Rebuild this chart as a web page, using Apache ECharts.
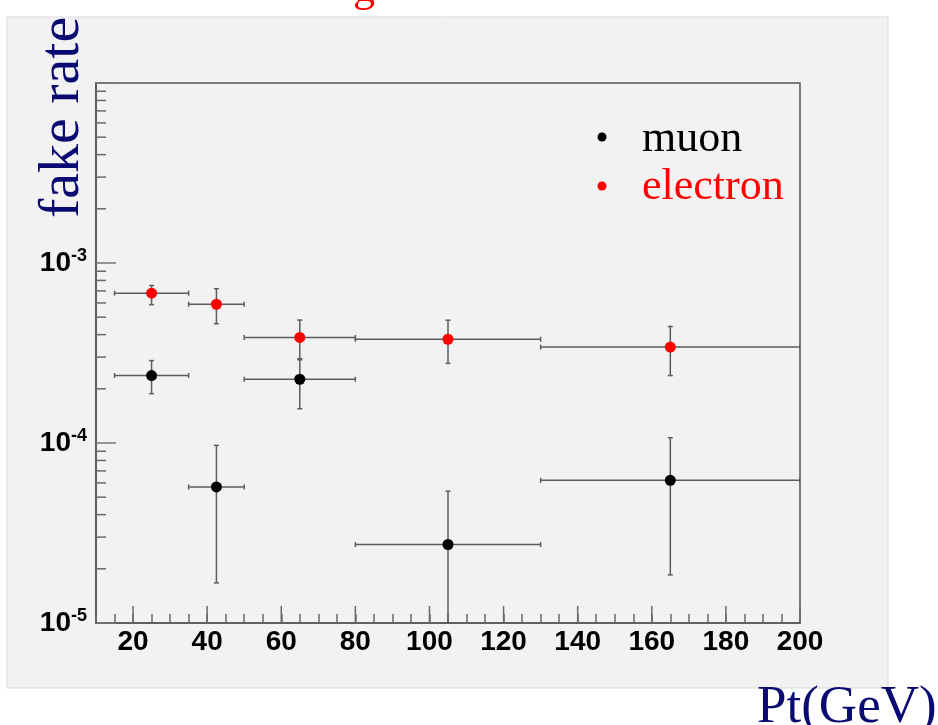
<!DOCTYPE html>
<html>
<head>
<meta charset="utf-8">
<script src="https://cdn.jsdelivr.net/npm/echarts@6/dist/echarts.min.js"></script>
<style>
  html, body { margin: 0; padding: 0; background: #ffffff; }
  #chart { width: 938px; height: 725px; }
</style>
</head>
<body>
<div id="chart"></div>
<script>
// Axis ranges
const xMin = 10, xMax = 200;
const yMin = 1e-5, yMax = 1e-2;

// Tick values drawn by hand (long x ticks, minor log ticks)
const xMajorTicks = [20, 40, 60, 80, 100, 120, 140, 160, 180, 200];
const yMinorTicks = [
  2e-5, 3e-5, 4e-5, 5e-5, 6e-5, 7e-5, 8e-5, 9e-5,
  2e-4, 3e-4, 4e-4, 5e-4, 6e-4, 7e-4, 8e-4, 9e-4,
  2e-3, 3e-3, 4e-3, 5e-3, 6e-3, 7e-3, 8e-3, 9e-3
];

// Pt bins (GeV)
const binLow    = [15, 35, 50, 80, 130];
const binHigh   = [35, 50, 80, 130, 200];
const binCenter = [25, 42.5, 65, 105, 165];

// Muon fake rate with error bounds
const muonRate = [2.37e-4, 5.7e-5, 2.26e-4, 2.73e-5, 6.2e-5];
const muonHigh = [2.87e-4, 9.7e-5, 2.9e-4, 5.4e-5, 1.07e-4];
const muonLow  = [1.88e-4, 1.67e-5, 1.55e-4, 1.0e-5, 1.85e-5];

// Electron fake rate with error bounds
const electronRate = [6.8e-4, 5.9e-4, 3.86e-4, 3.77e-4, 3.41e-4];
const electronHigh = [7.5e-4, 7.2e-4, 4.82e-4, 4.81e-4, 4.44e-4];
const electronLow  = [5.87e-4, 4.6e-4, 2.94e-4, 2.77e-4, 2.37e-4];

const axisColor = '#555555';
const barColor = '#5c5c5c';
const navy = '#0a0a73';
const labelFont = 'Liberation Sans';

function errorRows(rate, low, high) {
  return binCenter.map((x, i) => [x, rate[i], binLow[i], binHigh[i], low[i], high[i]]);
}

function renderErrorBar(params, api) {
  const x = api.value(0), y = api.value(1);
  const p0 = api.coord([api.value(2), y]);
  const p1 = api.coord([api.value(3), y]);
  const q0 = api.coord([x, api.value(4)]);
  const q1 = api.coord([x, api.value(5)]);
  const cap = 2.5;
  const st = { stroke: barColor, lineWidth: 1.5 };
  const seg = (a, b, c, d) => ({ type: 'line', shape: { x1: a, y1: b, x2: c, y2: d }, style: st });
  return {
    type: 'group',
    children: [
      seg(p0[0], p0[1], p1[0], p1[1]),
      seg(q0[0], q0[1], q1[0], q1[1]),
      seg(p0[0], p0[1] - cap, p0[0], p0[1] + cap),
      seg(p1[0], p1[1] - cap, p1[0], p1[1] + cap),
      seg(q0[0] - cap, q0[1], q0[0] + cap, q0[1]),
      seg(q1[0] - cap, q1[1], q1[0] + cap, q1[1])
    ]
  };
}

function renderYMinorTick(params, api) {
  const p = api.coord([xMin, api.value(1)]);
  return { type: 'line', shape: { x1: p[0], y1: p[1], x2: p[0] + 10, y2: p[1] },
           style: { stroke: '#6a6a6a', lineWidth: 1.5 } };
}

function renderXMajorTick(params, api) {
  const p = api.coord([api.value(0), yMin]);
  return { type: 'line', shape: { x1: p[0], y1: p[1], x2: p[0], y2: p[1] - 17 },
           style: { stroke: '#6a6a6a', lineWidth: 1.5 } };
}

const chart = echarts.init(document.getElementById('chart'), null, { renderer: 'canvas' });

chart.setOption({
  backgroundColor: '#ffffff',
  animation: false,
  graphic: [
    { type: 'rect', z: -10, shape: { x: 7, y: 17, width: 881, height: 671 },
      style: { fill: '#f2f2f2', stroke: '#dadada', lineWidth: 1 } },
    { type: 'text', z: 5, x: 353, y: -33,
      style: { text: 'g', fill: '#ff0000', font: '44px "Liberation Serif"' } },
    { type: 'text', z: 5, x: 92, y: 218, rotation: Math.PI / 2,
      style: { text: 'fake rate', fill: navy, font: '58px "Liberation Serif"',
               align: 'left', verticalAlign: 'bottom' } },
    { type: 'text', z: 5, x: 757, y: 735,
      style: { text: 'Pt(GeV)', fill: navy, font: '53px "Liberation Serif"',
               align: 'left', verticalAlign: 'bottom' } },
    { type: 'circle', z: 5, shape: { cx: 602, cy: 137, r: 4.5 }, style: { fill: '#000000' } },
    { type: 'circle', z: 5, shape: { cx: 602, cy: 186, r: 4.5 }, style: { fill: '#ff0000' } },
    { type: 'text', z: 5, x: 642, y: 139,
      style: { text: 'muon', fill: '#000000', font: '44px "Liberation Serif"', verticalAlign: 'middle' } },
    { type: 'text', z: 5, x: 642, y: 187,
      style: { text: 'electron', fill: '#ff0000', font: '44px "Liberation Serif"', verticalAlign: 'middle' } }
  ],
  grid: {
    left: 96, top: 83, width: 704, height: 540,
    show: true, backgroundColor: 'transparent', borderColor: axisColor, borderWidth: 1.5
  },
  xAxis: {
    type: 'value', min: xMin, max: xMax, interval: 5,
    axisLine: { show: true, onZero: false, lineStyle: { color: axisColor, width: 1.5 } },
    axisTick: { show: true, inside: true, length: 9, lineStyle: { color: '#6a6a6a', width: 1.5 } },
    splitLine: { show: false },
    axisLabel: {
      margin: 5, color: '#000000', fontFamily: labelFont, fontWeight: 'bold', fontSize: 28,
      formatter: v => (v % 20 === 0 ? String(v) : '')
    }
  },
  yAxis: {
    type: 'log', logBase: 10, min: yMin, max: yMax,
    axisLine: { show: true, onZero: false, lineStyle: { color: axisColor, width: 1.5 } },
    axisTick: { show: true, inside: true, length: 20, lineStyle: { color: '#777777', width: 1.5 } },
    splitLine: { show: false },
    axisLabel: {
      margin: 9, fontFamily: labelFont, fontWeight: 'bold', fontSize: 28, color: '#000000',
      formatter: v => {
        const e = Math.round(Math.log10(v));
        return e >= -2 ? '' : '{b|10}{s|' + e + '}';
      },
      rich: {
        b: { fontFamily: labelFont, fontWeight: 'bold', fontSize: 28, color: '#000000', lineHeight: 30 },
        s: { fontFamily: labelFont, fontWeight: 'bold', fontSize: 18, color: '#000000',
             lineHeight: 30, padding: [0, 0, 14, 0] }
      }
    }
  },
  series: [
    { type: 'custom', name: 'yMinor', renderItem: renderYMinorTick, silent: true, clip: false,
      encode: { x: 0, y: 1 }, data: yMinorTicks.map(v => [xMin, v]), z: 3 },
    { type: 'custom', name: 'xMajor', renderItem: renderXMajorTick, silent: true, clip: false,
      encode: { x: 0, y: 1 }, data: xMajorTicks.map(v => [v, yMin]), z: 3 },
    { type: 'custom', name: 'muonErr', renderItem: renderErrorBar, silent: true, clip: true,
      encode: { x: 0, y: 1 }, data: errorRows(muonRate, muonLow, muonHigh), z: 4 },
    { type: 'custom', name: 'electronErr', renderItem: renderErrorBar, silent: true, clip: true,
      encode: { x: 0, y: 1 }, data: errorRows(electronRate, electronLow, electronHigh), z: 4 },
    { type: 'scatter', name: 'muon', symbol: 'circle', symbolSize: 11, z: 6,
      itemStyle: { color: '#000000', opacity: 1 }, data: binCenter.map((x, i) => [x, muonRate[i]]) },
    { type: 'scatter', name: 'electron', symbol: 'circle', symbolSize: 11, z: 6,
      itemStyle: { color: '#ff0000', opacity: 1 }, data: binCenter.map((x, i) => [x, electronRate[i]]) }
  ]
});
</script>
</body>
</html>
